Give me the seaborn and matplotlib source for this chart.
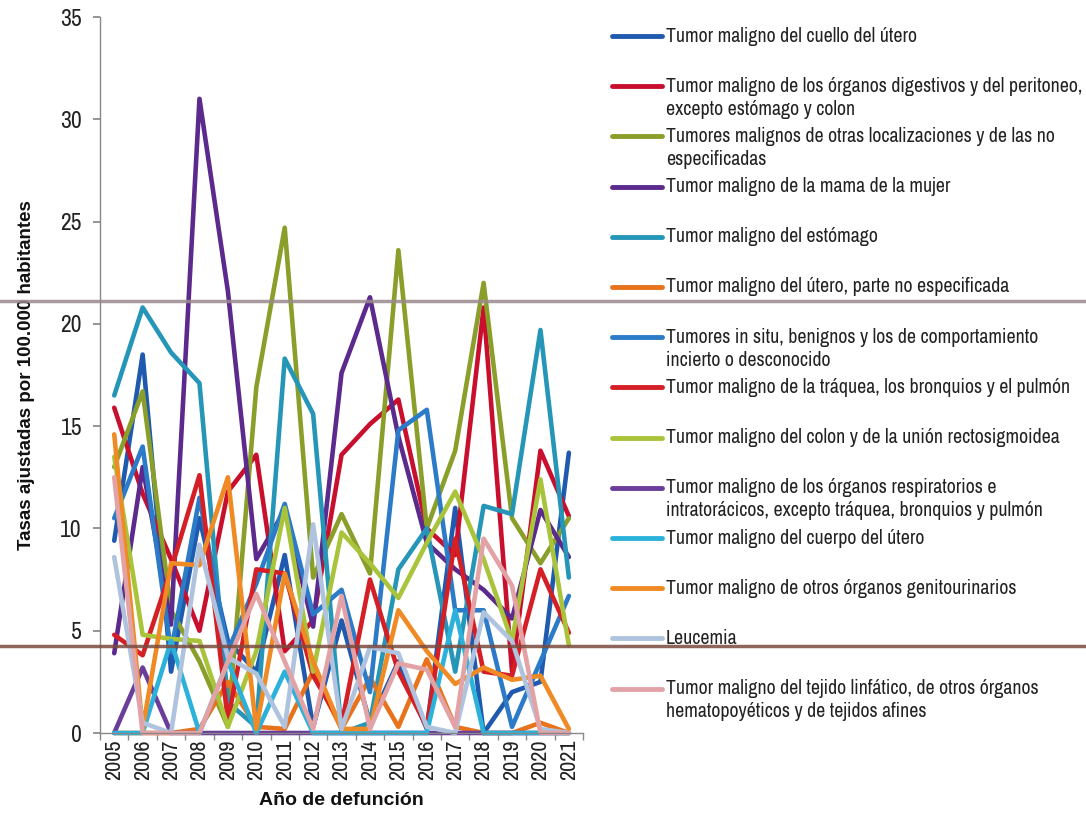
import numpy as np
import pandas as pd
import matplotlib
matplotlib.use("Agg")
import matplotlib.pyplot as plt
from matplotlib.lines import Line2D
import seaborn as sns

# Años y series (tasas ajustadas por 100.000 habitantes)
anios = list(range(2005, 2022))

cuello = [9.4, 18.5, 3.0, 10.5, 4.5, 3.0, 8.7, 0.3, 5.5, 0.5, 3.5, 0.2, 11.0, 0.0, 2.0, 2.5, 13.7]
digestivos = [15.9, 11.7, 8.5, 5.0, 11.8, 13.6, 4.0, 5.5, 13.6, 15.1, 16.3, 10.0, 8.7, 20.8, 3.0, 13.8, 10.6]
otras = [13.0, 16.7, 6.0, 3.5, 0.3, 16.9, 24.7, 7.6, 10.7, 7.8, 23.6, 10.0, 13.8, 22.0, 10.5, 8.3, 10.5]
mama = [3.9, 13.0, 5.3, 31.0, 21.6, 8.5, 10.9, 5.2, 17.6, 21.3, 14.5, 9.3, 8.0, 7.0, 5.6, 10.9, 8.6]
estomago = [16.5, 20.8, 18.6, 17.1, 1.5, 0.3, 18.3, 15.6, 0.0, 0.5, 8.0, 10.0, 3.0, 11.1, 10.7, 19.7, 7.6]
utero_ne = [0.0, 0.0, 0.0, 0.2, 2.5, 0.3, 0.2, 3.0, 0.2, 2.7, 0.3, 3.6, 0.3, 0.0, 0.0, 0.5, 0.0]
in_situ = [10.5, 14.0, 4.0, 11.5, 4.0, 7.3, 11.2, 5.8, 7.0, 2.0, 14.8, 15.8, 6.0, 6.0, 0.3, 3.5, 6.7]
traquea = [4.8, 3.8, 8.0, 12.6, 0.6, 8.0, 7.8, 2.8, 0.4, 7.5, 3.0, 0.3, 9.5, 3.0, 2.8, 8.0, 4.9]
colon = [13.5, 4.8, 4.6, 4.5, 0.3, 4.0, 11.0, 3.0, 9.8, 8.3, 6.6, 9.3, 11.8, 8.5, 4.5, 12.4, 4.3]
respiratorios = [0.0, 3.2, 0.0, 0.0, 0.0, 0.0, 0.0, 0.0, 0.0, 0.0, 0.0, 0.0, 0.0, 0.0, 0.0, 0.0, 0.0]
cuerpo = [0.0, 0.0, 4.5, 0.0, 3.5, 0.0, 3.0, 0.0, 0.0, 0.0, 0.0, 0.0, 6.0, 0.0, 0.0, 0.0, 0.0]
genitourinarios = [14.6, 0.2, 8.3, 8.2, 12.5, 0.2, 7.8, 3.5, 0.2, 0.2, 6.0, 4.0, 2.4, 3.2, 2.6, 2.8, 0.2]
leucemia = [8.6, 0.5, 0.0, 9.2, 3.7, 2.9, 0.3, 10.2, 0.2, 4.2, 3.9, 0.3, 0.0, 5.9, 4.5, 0.2, 0.0]
linfatico = [12.5, 0.0, 0.0, 0.0, 3.5, 6.8, 3.5, 0.2, 6.7, 0.2, 3.4, 3.1, 0.3, 9.5, 7.2, 0.0, 0.0]

etiquetas = [
    "Tumor maligno del cuello del útero",
    "Tumor maligno de los órganos digestivos y del peritoneo,\nexcepto estómago y colon",
    "Tumores malignos de otras localizaciones y de las no\nespecificadas",
    "Tumor maligno de la mama de la mujer",
    "Tumor maligno del estómago",
    "Tumor maligno del útero, parte no especificada",
    "Tumores in situ, benignos y los de comportamiento\nincierto o desconocido",
    "Tumor maligno de la tráquea, los bronquios y el pulmón",
    "Tumor maligno del colon y de la unión rectosigmoidea",
    "Tumor maligno de los órganos respiratorios e\nintratorácicos, excepto tráquea, bronquios y pulmón",
    "Tumor maligno del cuerpo del útero",
    "Tumor maligno de otros órganos genitourinarios",
    "Leucemia",
    "Tumor maligno del tejido linfático, de otros órganos\nhematopoyéticos y de tejidos afines",
]
series = [cuello, digestivos, otras, mama, estomago, utero_ne, in_situ, traquea,
          colon, respiratorios, cuerpo, genitourinarios, leucemia, linfatico]
colores = ["#1F5AAE", "#C8102E", "#8A9E2A", "#5B2A8C", "#2696B8", "#E8731C", "#2B7BC8",
           "#D41F26", "#A9C43B", "#6A3D9A", "#2CB2DA", "#F08A24", "#AFC3DE", "#E3A3A6"]

# Tabla larga para seaborn
filas = []
for etq, vals in zip(etiquetas, series):
    for a, v in zip(anios, vals):
        filas.append({"anio": a, "tasa": v, "causa": etq})
df = pd.DataFrame(filas)

sns.set_theme(style="ticks")
plt.rcParams['font.family'] = ['Archivo Narrow', 'Liberation Sans', 'DejaVu Sans']

fig = plt.figure(figsize=(10.86, 8.14), dpi=100)
ax = fig.add_axes([0.0921, 0.0995, 0.4448, 0.8796])

sns.lineplot(data=df, x="anio", y="tasa", hue="causa", hue_order=etiquetas,
             palette=dict(zip(etiquetas, colores)), linewidth=3.3, legend=False, ax=ax)
for ln in ax.lines:
    ln.set_clip_on(False)

ax.set_xlim(2004.5, 2021.5)
ax.set_ylim(0, 35)
ax.set_yticks(range(0, 36, 5))
ax.set_xticks(anios)
ax.set_xticklabels([str(a) for a in anios], rotation=90)
ax.set_xticks(np.arange(2004.5, 2022, 1), minor=True)
ax.tick_params(axis='x', which='major', length=0, labelsize=16, pad=5, labelcolor='#222222')
ax.tick_params(axis='x', which='minor', length=5, color='#888888')
ax.tick_params(axis='y', labelsize=17, length=5, color='#888888', pad=8, labelcolor='#222222')
for lado in ['top', 'right']:
    ax.spines[lado].set_visible(False)
for lado in ['left', 'bottom']:
    ax.spines[lado].set_color('#888888')
    ax.spines[lado].set_linewidth(1)

# Títulos de ejes en negrita (Liberation Sans tiene negrita)
negrita = ['Liberation Sans', 'DejaVu Sans']
ax.set_xlabel("Año de defunción", fontsize=14, fontweight='bold', family=negrita,
              labelpad=8, color='#111111')
ax.set_ylabel("Tasas ajustadas por 100.000 habitantes", fontsize=13.5, fontweight='bold',
              family=negrita, labelpad=18, color='#111111')

# Leyenda a la derecha
for i, (etq, col) in enumerate(zip(etiquetas, colores)):
    y = 1 - (36 + 50.2 * i) / 814
    fig.add_artist(Line2D([612 / 1086, 662 / 1086], [y, y], color=col, lw=3.5,
                          solid_capstyle='round', transform=fig.transFigure))
    for k, linea in enumerate(etq.split("\n")):
        fig.text(666 / 1086, y - k * 23 / 814, linea, fontsize=14.3, va='center', ha='left',
                 color='#222222')

# Líneas horizontales del escaneo
ax.axhline(21.1, xmin=-0.25, xmax=2.1, color='#9A8A8C', lw=2.5, clip_on=False, zorder=10, alpha=0.85)
ax.axhline(4.25, xmin=-0.25, xmax=2.1, color='#7A4A3E', lw=2.5, clip_on=False, zorder=10, alpha=0.85)

fig.savefig("out.png", dpi=100)
